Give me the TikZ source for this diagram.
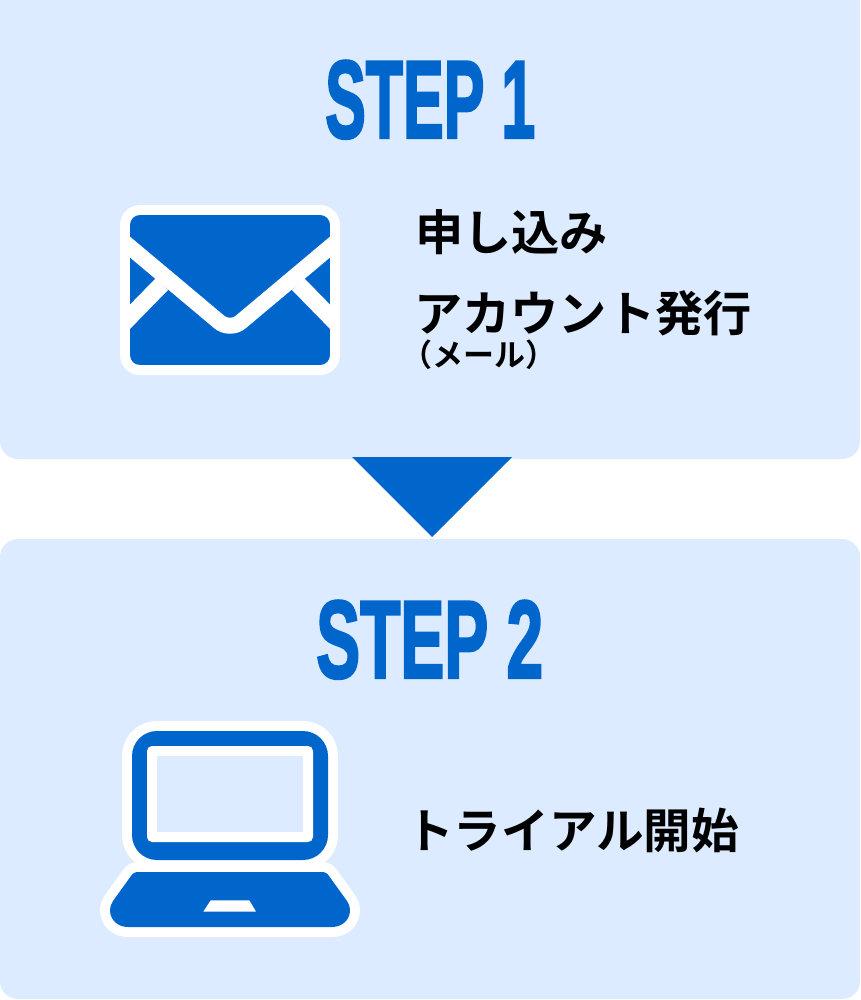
\documentclass[tikz,border=0pt]{standalone}
\usepackage{fontspec}
\usepackage{graphicx}
\newfontfamily\jpfont{Noto Sans CJK JP Bold}
\newfontfamily\headfont[FakeBold=2.6]{Liberation Sans Bold}
\definecolor{panelblue}{HTML}{DCEBFF}
\definecolor{markblue}{HTML}{0066CC}
\tikzset{
  x=1pt, y=-1pt,
  panel/.style={fill=panelblue, rounded corners=18pt},
  heading/.style={inner sep=0pt, anchor=south west, text=markblue},
  label/.style={inner sep=0pt, anchor=base west, text=black, font=\jpfont\fontsize{48.2}{48.2}\selectfont},
  smalllabel/.style={inner sep=0pt, anchor=base west, text=black, font=\jpfont\fontsize{31}{31}\selectfont},
  halo/.style={draw=white, fill=white, line width=20pt, line join=round},
}
\begin{document}
\begin{tikzpicture}
\useasboundingbox (0,0) rectangle (860,1000);
% Panels and the arrow between them
\fill[panel] (0,-30) rectangle (860,459);
\fill[panel] (0,539) rectangle (860,999);
\fill[markblue] (352,457) -- (512,457) -- (432,537) -- cycle;

% Headings
\node[heading] (step1) at (325,139) {\resizebox{210pt}{77pt}{\headfont STEP 1}};
\node[heading] (step2) at (316,679) {\resizebox{227pt}{77pt}{\headfont STEP 2}};

% Envelope
\fill[white, rounded corners=20pt] (120,205) rectangle (340,375);
\begin{scope}
  \clip[rounded corners=10pt] (130,215) rectangle (330,365);
  \fill[markblue] (130,215) rectangle (330,365);
  \draw[white, line width=16pt, rounded corners=14pt] (118,237) -- (230,331) -- (342,237);
  \draw[white, line width=17pt] (120,327) -- (162,284);
  \draw[white, line width=17pt] (340,327) -- (298,284);
\end{scope}

% Laptop lid
\fill[white, rounded corners=35pt] (122,721) rectangle (338,870);
\fill[markblue, rounded corners=25pt] (132,731) rectangle (328,860);
\fill[white, rounded corners=5pt] (147,746) rectangle (313,842);
\fill[panelblue] (157,756) rectangle (303,832);

% Laptop base: one outline, first as a white halo and then in blue
\def\basepath{(139,872) -- (321,872) .. controls (325,872) and (327,873) .. (329,876)
  -- (347,901) .. controls (349,904) and (350,907) .. (350,910)
  .. controls (350,920) and (342,927) .. (332,927) -- (128,927)
  .. controls (118,927) and (110,920) .. (110,910)
  .. controls (110,907) and (111,904) .. (113,901) -- (131,876)
  .. controls (133,873) and (135,872) .. (139,872) -- cycle}
\path[halo] \basepath;
\fill[markblue] \basepath;
\fill[white] (210.7,900.3) -- (249.3,900.3) -- (256,911.7) -- (203.3,911.7) -- cycle;

% Captions
\node[label] (apply) at (415,251) {申し込み};
\node[label] (account) at (414,331) {アカウント発行};
\node[smalllabel] (mail) at (401,366) {（メール）};
\node[label, font=\jpfont\fontsize{47.6}{47.6}\selectfont] (trial) at (406,848) {トライアル開始};
\end{tikzpicture}
\end{document}
